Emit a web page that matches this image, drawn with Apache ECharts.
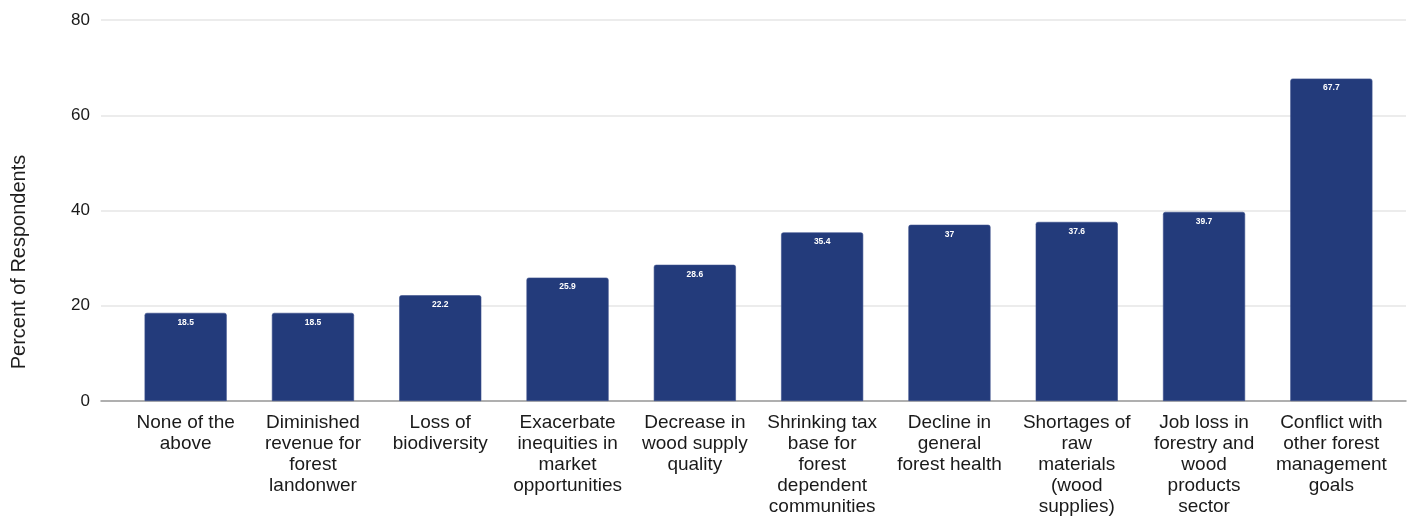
<!DOCTYPE html>
<html>
<head>
<meta charset="utf-8">
<script src="https://cdn.jsdelivr.net/npm/echarts@6/dist/echarts.min.js"></script>
<style>
  html, body { margin: 0; padding: 0; background: #ffffff; }
  #chart { width: 1408px; height: 517px; }
</style>
</head>
<body>
<div id="chart"></div>
<script>
// Concerns reported by survey respondents
const categories = [
  'None of the\nabove',
  'Diminished\nrevenue for\nforest\nlandonwer',
  'Loss of\nbiodiversity',
  'Exacerbate\ninequities in\nmarket\nopportunities',
  'Decrease in\nwood supply\nquality',
  'Shrinking tax\nbase for\nforest\ndependent\ncommunities',
  'Decline in\ngeneral\nforest health',
  'Shortages of\nraw\nmaterials\n(wood\nsupplies)',
  'Job loss in\nforestry and\nwood\nproducts\nsector',
  'Conflict with\nother forest\nmanagement\ngoals'
];
const percentValues = [18.5, 18.5, 22.2, 25.9, 28.6, 35.4, 37, 37.6, 39.7, 67.7];
const yTicks = [0, 20, 40, 60, 80];
const yTitle = 'Percent of Respondents';

const yMin = yTicks[0];
const yMax = yTicks[yTicks.length - 1];
const yStep = yTicks[1] - yTicks[0];
const font = 'Liberation Sans, Arial, sans-serif';

const chart = echarts.init(document.getElementById('chart'));
chart.setOption({
  animation: false,
  grid: [
    // bars
    { left: 122, right: 13, top: 20, bottom: 116 },
    // wider band carrying the gridlines and baseline
    { left: 101, right: 2, top: 20, bottom: 116 }
  ],
  graphic: [
    {
      type: 'text',
      x: 19,
      y: 262,
      rotation: Math.PI / 2,
      style: {
        text: yTitle,
        fill: '#1e1e1e',
        font: '20px ' + font,
        align: 'center',
        verticalAlign: 'middle'
      }
    }
  ],
  xAxis: [
    {
      type: 'category',
      gridIndex: 0,
      data: categories,
      axisLine: { show: false },
      axisTick: { show: false },
      axisLabel: {
        interval: 0,
        color: '#1a1a1a',
        fontFamily: font,
        fontSize: 19,
        lineHeight: 21,
        margin: 11
      }
    },
    {
      type: 'value',
      gridIndex: 1,
      min: 0, max: 1,
      show: true,
      axisLine: { show: true, onZero: false, lineStyle: { color: '#9a9a9a', width: 1.5 } },
      axisTick: { show: false },
      axisLabel: { show: false },
      splitLine: { show: false }
    }
  ],
  yAxis: [
    {
      type: 'value',
      gridIndex: 0,
      min: yMin, max: yMax, interval: yStep,
      axisLine: { show: false },
      axisTick: { show: false },
      axisLabel: { show: false },
      splitLine: { show: false }
    },
    {
      type: 'value',
      gridIndex: 1,
      min: yMin, max: yMax, interval: yStep,
      axisLine: { show: false },
      axisTick: { show: false },
      axisLabel: {
        color: '#1a1a1a',
        fontFamily: font,
        fontSize: 17,
        margin: 11
      },
      splitLine: { show: true, lineStyle: { color: '#e6e6e6', width: 1.5 } }
    }
  ],
  series: [
    {
      type: 'bar',
      xAxisIndex: 0,
      yAxisIndex: 0,
      data: percentValues,
      barWidth: '64.5%',
      z: 3,
      itemStyle: {
        color: '#233b7b',
        borderColor: '#3a4f8c',
        borderWidth: 0.6,
        borderRadius: [2, 2, 0, 0]
      },
      label: {
        show: true,
        position: 'insideTop',
        distance: 5,
        color: '#ffffff',
        fontFamily: font,
        fontSize: 8.5,
        fontWeight: 'bold'
      }
    }
  ]
});
</script>
</body>
</html>
